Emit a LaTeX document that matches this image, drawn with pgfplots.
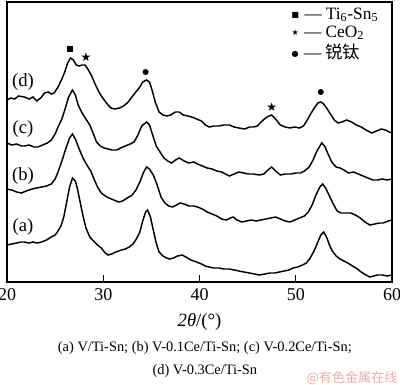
\documentclass[border=0pt]{standalone}
\usepackage{fontspec}
\setmainfont{Liberation Serif}
\newfontfamily\symfont{DejaVu Sans}
\newfontfamily\cjk{Noto Sans CJK SC}
\usepackage{pgfplots}
\pgfplotsset{compat=1.18}
\definecolor{wm}{RGB}{240,170,170}
\begin{document}
\begin{tikzpicture}
\begin{axis}[name=ax, scale only axis, width=288.75pt, height=210pt,
  xmin=20, xmax=60, ymin=0, ymax=280,
  xtick={20,30,40,50,60}, ytick=\empty, xtick pos=bottom,
  tick align=inside, major tick length=5pt,
  axis line style={line width=1.1pt},
  every tick/.style={line width=1pt, black},
  /pgf/number format/assume math mode=true,
  xticklabel style={font=\fontsize{13.5}{13.5}\selectfont, yshift=-1pt},
  xlabel={{\itshape 2θ}/(°)},
  xlabel style={font=\fontsize{14}{14}\selectfont, yshift=-3pt},
  clip=false]
\addplot[black, line width=1.1pt] coordinates {
(20.0,182)(20.4,184)(20.8,183)(21.2,186)(21.8,185)(22.3,183)(22.7,185)(23.1,181)(23.5,184)(23.9,189)
(24.3,190)(24.6,188)(24.9,189)(25.3,195)(25.7,203)(26.0,210)(26.3,219)(26.6,224)(26.9,222)(27.2,217)
(27.5,216)(27.8,217)(28.1,217)(28.4,213)(28.8,206)(29.1,199)(29.5,191)(29.8,186)(30.1,182)(30.5,177)
(30.8,174)(31.2,173)(31.7,174)(32.1,176)(32.5,179)(32.9,184)(33.3,189)(33.8,195)(34.1,200)(34.5,202)
(34.8,200)(35.1,191)(35.4,180)(35.8,170)(36.2,167)(36.6,166)(37.0,167)(37.5,170)(37.9,170)(38.3,167)
(38.8,166)(39.2,165)(39.7,163)(40.2,161)(40.6,157)(41.0,155)(41.5,156)(42.0,156)(42.5,157)(43.1,157)
(43.6,155)(44.1,154)(44.7,153)(45.2,155)(45.6,155)(46.0,156)(46.5,161)(47.0,165)(47.5,167)(47.9,163)
(48.4,157)(48.9,155)(49.4,154)(49.9,155)(50.4,154)(50.8,156)(51.2,162)(51.6,169)(52.0,175)(52.3,179)
(52.6,180)(52.9,178)(53.2,174)(53.6,168)(54.0,162)(54.4,159)(54.8,160)(55.3,162)(55.8,160)(56.3,157)
(56.8,155)(57.3,152)(57.9,149)(58.4,151)(58.9,153)(59.3,152)(59.7,150)(60.0,149)};
\addplot[black, line width=1.1pt] coordinates {
(20.0,139)(20.5,137)(21.0,138)(21.5,136)(21.8,136)(22.3,137)(22.8,135)(23.2,135)(23.7,137)(24.2,139)
(24.6,142)(25.0,148)(25.3,155)(25.7,163)(26.0,172)(26.4,185)(26.8,192)(27.1,187)(27.4,177)(27.8,169)
(28.2,163)(28.6,157)(28.9,150)(29.3,140)(29.7,136)(30.1,134)(30.5,133)(30.9,132)(31.4,132)(31.8,134)
(32.3,136)(32.8,138)(33.2,140)(33.6,147)(34.0,156)(34.5,160)(34.8,157)(35.1,148)(35.5,136)(35.9,130)
(36.3,124)(36.7,121)(37.1,119)(37.5,122)(37.9,124)(38.4,121)(38.9,119)(39.4,120)(39.8,118)(40.3,116)
(40.8,114)(41.3,113)(41.8,111)(42.3,110)(42.7,108)(43.1,106)(43.6,108)(44.1,110)(44.6,109)(45.1,108)
(45.6,108)(46.2,107)(46.7,108)(47.1,112)(47.5,115)(47.9,111)(48.4,107)(48.9,108)(49.5,108)(50.0,109)
(50.5,109)(50.9,111)(51.4,115)(51.8,122)(52.2,131)(52.7,139)(53.0,136)(53.4,127)(53.8,119)(54.2,115)
(54.6,114)(55.0,112)(55.5,109)(56.0,110)(56.5,108)(57.0,106)(57.5,104)(58.0,102)(58.5,102)(59.0,103)
(59.5,102)(60.0,103)};
\addplot[black, line width=1.1pt] coordinates {
(20.0,93)(20.5,92)(21.0,90)(21.5,89)(22.0,91)(22.6,93)(23.1,94)(23.6,95)(24.1,96)(24.6,98)
(25.0,103)(25.3,110)(25.7,121)(26.1,133)(26.5,144)(26.8,148)(27.1,143)(27.5,133)(27.9,124)(28.3,117)
(28.7,111)(29.0,104)(29.4,95)(29.8,89)(30.2,86)(30.6,84)(31.1,82)(31.6,80)(32.0,81)(32.5,84)
(33.0,87)(33.4,92)(33.8,100)(34.2,110)(34.5,115)(34.8,113)(35.2,107)(35.6,97)(36.0,85)(36.4,79)
(36.8,76)(37.2,75)(37.6,77)(38.0,79)(38.4,78)(38.9,76)(39.4,76)(39.8,75)(40.3,73)(40.8,70)
(41.3,68)(41.8,66)(42.3,63)(42.8,62)(43.2,64)(43.5,65)(43.9,62)(44.4,60)(44.9,61)(45.4,62)
(45.9,61)(46.4,62)(46.9,63)(47.4,64)(47.9,65)(48.4,63)(48.9,61)(49.4,60)(49.9,62)(50.4,64)
(50.9,66)(51.3,70)(51.7,77)(52.1,87)(52.5,95)(52.8,98)(53.1,94)(53.5,86)(53.9,78)(54.3,71)
(54.7,69)(55.2,69)(55.7,69)(56.2,67)(56.7,64)(57.2,60)(57.7,57)(58.2,58)(58.7,59)(59.1,59)
(59.6,61)(60.0,62)};
\addplot[black, line width=1.1pt] coordinates {
(20.0,37)(20.5,38)(21.0,39)(21.5,40)(21.8,40)(22.3,39)(22.7,40)(23.1,39)(23.6,40)(24.1,42)
(24.6,45)(25.0,47)(25.3,51)(25.6,56)(25.9,65)(26.2,80)(26.5,95)(26.8,104)(27.1,101)(27.3,94)
(27.6,80)(27.9,66)(28.2,54)(28.6,45)(29.0,41)(29.4,37)(29.8,34)(30.2,29)(30.5,27)(30.9,28)
(31.3,30)(31.9,32)(32.3,33)(32.7,35)(33.1,38)(33.5,44)(33.8,50)(34.1,61)(34.4,70)(34.6,72)
(34.9,65)(35.2,52)(35.5,39)(35.8,30)(36.2,26)(36.6,24)(36.9,23)(37.3,24)(37.7,26)(38.2,27)
(38.6,25)(39.1,22)(39.7,20)(40.2,18)(40.6,16)(41.0,15)(41.5,14)(42.0,14)(42.5,13)(43.1,13)
(43.6,12)(44.1,11)(44.6,10)(45.2,9)(45.7,8)(46.2,7)(46.8,8)(47.3,9)(47.8,9)(48.3,10)
(48.8,11)(49.3,12)(49.7,14)(50.2,15)(50.7,17)(51.1,19)(51.5,24)(51.9,31)(52.3,40)(52.6,47)
(52.9,50)(53.2,45)(53.5,37)(53.8,31)(54.2,26)(54.6,23)(55.0,21)(55.4,19)(55.9,16)(56.4,13)
(56.8,10)(57.3,7)(57.7,5)(58.1,6)(58.5,7)(59.0,7)(59.5,6)(60.0,7)};
% peak markers
\addplot[only marks, mark=square*, mark size=2pt, black] coordinates {(26.55,233)};
\addplot[only marks, mark=*, mark size=2pt, black] coordinates {(34.4,210)(52.6,190)};
\addplot[only marks, mark=text, text mark={\symfont\fontsize{9}{9}\selectfont ★}, black] coordinates {(28.2,225)(47.5,175)};
% curve labels
\node[font=\fontsize{14}{14}\selectfont] at (axis cs:21.67,200) {(d)};
\node[font=\fontsize{14}{14}\selectfont] at (axis cs:21.67,153) {(c)};
\node[font=\fontsize{14}{14}\selectfont] at (axis cs:21.67,106) {(b)};
\node[font=\fontsize{14}{14}\selectfont] at (axis cs:21.67,55) {(a)};
% legend
\node[anchor=west, inner sep=0, font=\fontsize{13}{13}\selectfont] at (axis cs:49.55,267)
  {\raisebox{1.5pt}{\symfont\fontsize{6}{6}\selectfont ■}\hspace{4pt}—\hspace{3pt}Ti\textsubscript{6}-Sn\textsubscript{5}};
\node[anchor=west, inner sep=0, font=\fontsize{13}{13}\selectfont] at (axis cs:49.55,249)
  {\raisebox{1.5pt}{\symfont\fontsize{6}{6}\selectfont ★}\hspace{4pt}—\hspace{3pt}CeO\textsubscript{2}};
\node[anchor=west, inner sep=0, font=\fontsize{13}{13}\selectfont] at (axis cs:49.55,230)
  {\raisebox{1.5pt}{\symfont\fontsize{6}{6}\selectfont ●}\hspace{4pt}—\hspace{3pt}{\cjk 锐钛}};
\end{axis}
\node[font=\fontsize{10.8}{10.8}\selectfont] at ([shift={(4pt,-49.5pt)}]ax.south) {(a) V/Ti-Sn; (b) V-0.1Ce/Ti-Sn; (c) V-0.2Ce/Ti-Sn;};
\node[font=\fontsize{10.8}{10.8}\selectfont] at ([shift={(4pt,-66.75pt)}]ax.south) {(d) V-0.3Ce/Ti-Sn};
\node[font=\cjk\fontsize{9.8}{9.8}\selectfont, text=wm] at ([shift={(258.75pt,-72pt)}]ax.south west) {@有色金属在线};
\pgfresetboundingbox
\useasboundingbox ([shift={(-5.25pt,-76.5pt)}]ax.south west) rectangle ([shift={(6pt,1.5pt)}]ax.north east);
\end{tikzpicture}
\end{document}
